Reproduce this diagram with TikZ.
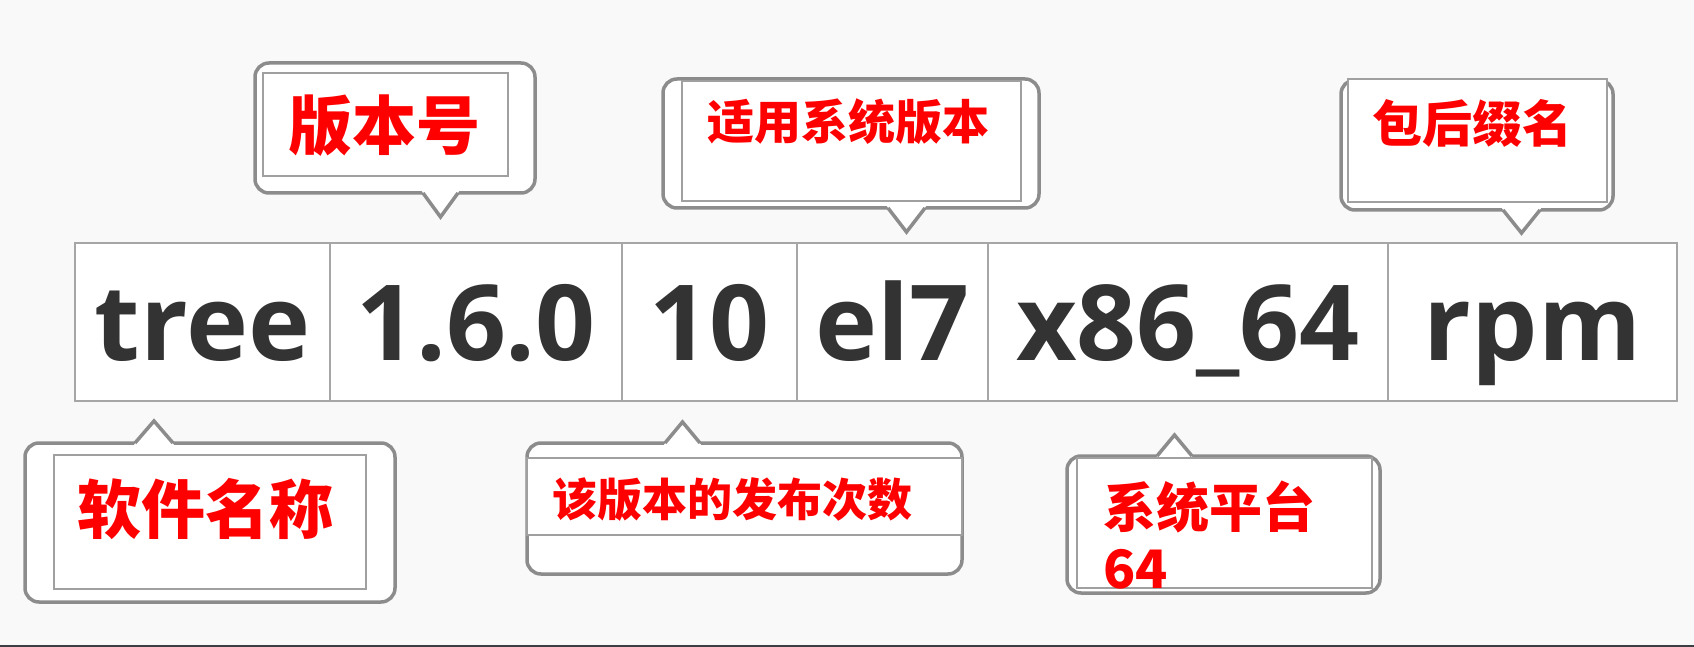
\documentclass[tikz,border=0pt]{standalone}
\usepackage{fontspec}
\setmainfont{Open Sans}
\newfontfamily\cjk{Noto Sans CJK SC}
\usetikzlibrary{positioning}

\definecolor{bgcol}{HTML}{F9F9F9}
\definecolor{stripcol}{HTML}{3B3E42}
\definecolor{cellline}{HTML}{A6A6A6}
\definecolor{bubbleline}{HTML}{8C8C8C}
\definecolor{innerline}{HTML}{A0A0A0}
\definecolor{inkgray}{HTML}{333333}

\tikzset{
  cell/.style={draw=cellline, line width=2pt, fill=white, outer sep=0pt, inner sep=0pt,
    minimum height=158pt, text height=90pt, text depth=14pt, text=inkgray,
    font=\fontsize{105}{115}\selectfont\bfseries},
  bubble/.style={draw=bubbleline, line width=3.5pt, fill=white, rounded corners=14pt},
  notch/.style={draw=bubbleline, line width=3.5pt, line join=miter},
  inbox/.style={draw=innerline, line width=2pt, fill=white, inner sep=0pt},
  tip/.style={text=red, inner sep=0pt}
}

\begin{document}
\begin{tikzpicture}[x=1pt, y=-1pt]
    \useasboundingbox (0,0) rectangle (1694,647);
    \fill[bgcol] (0,0) rectangle (1694,647);
    \fill[stripcol] (0,645) rectangle (1694,647);

    % Package name cells
    \node[cell, minimum width=255pt, anchor=north west] (name) at (75,243) {tree};
    \node[cell, minimum width=292pt, right=0pt of name] (ver) {1.6.0};
    \node[cell, minimum width=175pt, right=0pt of ver] (rel) {10};
    \node[cell, minimum width=191pt, right=0pt of rel] (dist) {el7};
    \node[cell, minimum width=400pt, right=0pt of dist] (arch) {x86\_64};
    \node[cell, minimum width=289pt, right=0pt of arch] (suffix) {rpm};

    % Callouts above
    \draw[bubble] (255,63) rectangle (535,193);
    \fill[white] (421,190) -- (440.5,217) -- (460,190) -- cycle;
    \draw[notch] (423,193) -- (440.5,217) -- (458,193);
    \node[inbox, minimum width=245pt, minimum height=103pt] (verbox) at (385.5,124.5) {};
    \node[tip, font=\cjk\bfseries\fontsize{64}{70}\selectfont] (vertxt) at (384,126) {版本号};

    \draw[bubble] (663,79) rectangle (1039,208);
    \fill[white] (886,205) -- (906.5,232) -- (927,205) -- cycle;
    \draw[notch] (888,208) -- (906.5,232) -- (925,208);
    \node[inbox, minimum width=339pt, minimum height=120pt] (distbox) at (851.5,141) {};
    \node[tip, font=\cjk\bfseries\fontsize{47}{52}\selectfont] (disttxt) at (848,122) {适用系统版本};

    \draw[bubble] (1341,80) rectangle (1613,210);
    \fill[white] (1501,207) -- (1521.5,233) -- (1542,207) -- cycle;
    \draw[notch] (1503,210) -- (1521.5,233) -- (1540,210);
    \node[inbox, minimum width=259pt, minimum height=123pt] (sufbox) at (1477.5,140.5) {};
    \node[tip, font=\cjk\bfseries\fontsize{50}{56}\selectfont] (suftxt) at (1472,123) {包后缀名};

    % Callouts below
    \draw[bubble] (25,443) rectangle (395,602);
    \fill[white] (133,446) -- (154,421) -- (175,446) -- cycle;
    \draw[notch] (135,443) -- (154,421) -- (173,443);
    \node[inbox, minimum width=312pt, minimum height=134pt] (namebox) at (210,522) {};
    \node[tip, font=\cjk\bfseries\fontsize{64}{70}\selectfont] (nametxt) at (205,509) {软件名称};

    \draw[bubble] (527,443) rectangle (962,574);
    \fill[white] (663,446) -- (682.5,422) -- (702,446) -- cycle;
    \draw[notch] (665,443) -- (682.5,422) -- (700,443);
    \node[inbox, minimum width=435pt, minimum height=77pt] (relbox) at (744.5,496.5) {};
    \node[tip, font=\cjk\bfseries\fontsize{45}{50}\selectfont] (reltxt) at (732,500) {该版本的发布次数};

    \draw[bubble] (1067,456) rectangle (1380,593);
    \fill[white] (1155,459) -- (1174.5,435) -- (1194,459) -- cycle;
    \draw[notch] (1157,456) -- (1174.5,435) -- (1192,456);
    \node[inbox, minimum width=295pt, minimum height=130pt] (archbox) at (1224.5,523) {};
    \node[tip, font=\cjk\bfseries\fontsize{53}{60}\selectfont, anchor=base west] (archtxt) at (1103,527) {系统平台};
    \node[tip, font=\cjk\bfseries\fontsize{53}{60}\selectfont, anchor=base west] (bitstxt) at (1103,588) {64};
\end{tikzpicture}
\end{document}
